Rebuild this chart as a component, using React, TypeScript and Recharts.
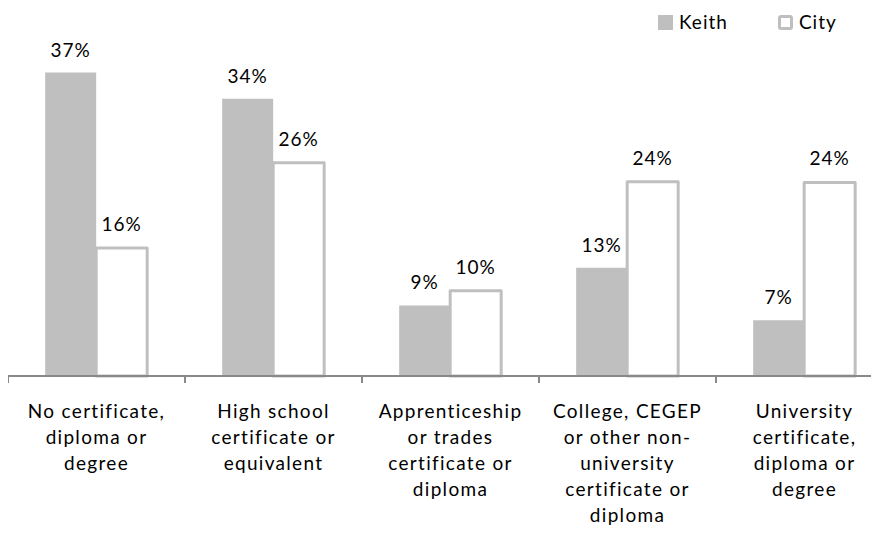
import { BarChart, Bar, XAxis, YAxis, Legend, LabelList } from 'recharts'

const categories = [
    'No certificate,\ndiploma or\ndegree',
    'High school\ncertificate or\nequivalent',
    'Apprenticeship\nor trades\ncertificate or\ndiploma',
    'College, CEGEP\nor other non-\nuniversity\ncertificate or\ndiploma',
    'University\ncertificate,\ndiploma or\ndegree',
]
const keith = [37.0, 33.8, 8.6, 13.2, 6.8]
const city = [15.6, 26.0, 10.4, 23.7, 23.6]

const data = categories.map((name, i) => ({ name, keith: keith[i], city: city[i] }))

const FONT = 'Lato, "Open Sans", sans-serif'
const GRAY = '#BFBFBF'
const AXIS = '#898989'
const BAND = 177

const pct = (v: any) => `${Math.round(Number(v))}%`

function CategoryTick(props: any) {
    const { x, y, payload, index } = props
    const lines = String(payload.value).split('\n')
    return (
        <g>
            <line x1={x - BAND / 2} x2={x - BAND / 2} y1={y} y2={y + 7} stroke={AXIS} strokeWidth={2} />
            {index === categories.length - 1 && (
                <line x1={x + BAND / 2} x2={x + BAND / 2} y1={y} y2={y + 7} stroke={AXIS} strokeWidth={2} />
            )}
            <text x={x} y={y + 42} textAnchor="middle" fill="#000" fontSize={19} letterSpacing={1.3} fontFamily={FONT}>
                {lines.map((l, i) => (
                    <tspan key={i} x={x} dy={i === 0 ? 0 : 26}>{l}</tspan>
                ))}
            </text>
        </g>
    )
}

function LegendContent() {
    const item = (label: string, filled: boolean, gap: number) => (
        <span style={{ display: 'inline-flex', alignItems: 'center', marginRight: gap }}>
            <span
                style={{
                    display: 'inline-block',
                    width: filled ? 15 : 9,
                    height: filled ? 15 : 9,
                    background: filled ? GRAY : '#fff',
                    border: filled ? 'none' : `3px solid ${GRAY}`,
                    borderRadius: filled ? 0 : 3,
                    marginRight: 6,
                }}
            />
            {label}
        </span>
    )
    return (
        <div style={{ fontFamily: FONT, fontSize: 19, letterSpacing: 1, color: '#000', whiteSpace: 'nowrap', lineHeight: '22px' }}>
            {item('Keith', true, 50)}
            {item('City', false, 0)}
        </div>
    )
}

export default function App() {
    return (
        <div style={{ width: 871, height: 538, overflow: 'hidden', position: 'relative' }}>
            <BarChart
                width={885}
                height={538}
                data={data}
                margin={{ top: 40, right: 0, bottom: 10, left: 0 }}
                barCategoryGap="21%"
                barGap={0}
            >
                <XAxis
                    dataKey="name"
                    interval={0}
                    height={160}
                    axisLine={{ stroke: AXIS, strokeWidth: 2 }}
                    tickLine={false}
                    tickSize={0}
                    tickMargin={0}
                    tick={<CategoryTick />}
                />
                <YAxis hide domain={[0, 40]} />
                <Legend
                    layout="horizontal"
                    verticalAlign="middle"
                    align="center"
                    content={<LegendContent />}
                    wrapperStyle={{ top: 3, left: 650, width: 'auto', height: 'auto' }}
                />
                <Bar dataKey="keith" name="Keith" fill={GRAY} isAnimationActive={false}>
                    <LabelList dataKey="keith" position="top" offset={16} formatter={pct} fill="#000" fontSize={19} letterSpacing={1} fontFamily={FONT} />
                </Bar>
                <Bar
                    dataKey="city"
                    name="City"
                    fill="#fff"
                    stroke={GRAY}
                    strokeWidth={3}
                    strokeLinejoin="round"
                    isAnimationActive={false}
                >
                    <LabelList dataKey="city" position="top" offset={17} formatter={pct} fill="#000" fontSize={19} letterSpacing={1} fontFamily={FONT} />
                </Bar>
            </BarChart>
        </div>
    )
}
